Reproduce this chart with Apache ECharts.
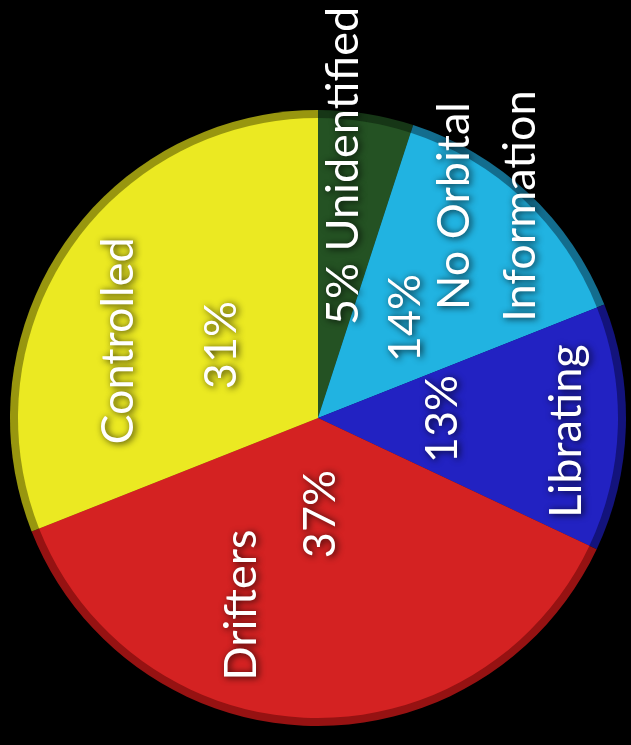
<!DOCTYPE html>
<html>
<head>
<meta charset="utf-8">
<script src="https://cdn.jsdelivr.net/npm/echarts@6/dist/echarts.min.js"></script>
<style>
  html, body { margin: 0; padding: 0; background: #000; }
  #chart { width: 631px; height: 745px; }
</style>
</head>
<body>
<div id="chart"></div>
<script>
// Share of tracked objects by orbital behaviour (percent)
const categories = ['Unidentified', 'No Orbital\nInformation', 'Librating', 'Drifters', 'Controlled'];
const shares = [5, 14, 13, 37, 31];

// Slice fill colours and the darker rim shade for each slice
const fillColors = ['#245223', '#21b3e1', '#2222c2', '#d42222', '#ebe922'];
const rimColors = ['#163616', '#136d8e', '#13137c', '#961212', '#98960f'];

// Hand-placed label anchors (text is set vertically, reading upward)
const valueLabelPos = [[343, 166], [405, 318], [442, 419], [320, 514], [221, 345]];
const nameLabelPos = [null, [487, 206], [566, 431], [241, 605], [118, 341]];

const CENTER = [318, 418];
const textStyle = {
  color: '#ffffff',
  fontFamily: 'Lato, "Open Sans", sans-serif',
  fontSize: 45,
  lineHeight: 66,
  textShadowColor: 'rgba(0,0,0,0.85)',
  textShadowBlur: 7,
  textShadowOffsetX: 2,
  textShadowOffsetY: 1
};

const chart = echarts.init(document.getElementById('chart'), null, { renderer: 'canvas' });

chart.setOption({
  backgroundColor: '#000000',
  animation: false,
  series: [
    {
      // outer rim + value labels
      name: 'rim',
      type: 'pie',
      center: CENTER,
      radius: [0, 308],
      startAngle: 90,
      silent: true,
      data: shares.map((v, i) => ({
        name: categories[i],
        value: v,
        itemStyle: { color: rimColors[i] }
      })),
      label: Object.assign({
        show: true,
        position: 'inside',
        rotate: 90,
        formatter: p => p.dataIndex === 0 ? p.value + '% ' + p.name : p.value + '%'
      }, textStyle),
      labelLine: { show: false },
      labelLayout: p => ({
        x: valueLabelPos[p.dataIndex][0],
        y: valueLabelPos[p.dataIndex][1],
        rotate: 90,
        align: 'center',
        verticalAlign: 'middle'
      })
    },
    {
      // main slices + category labels
      name: 'share',
      type: 'pie',
      center: CENTER,
      radius: [0, 300],
      startAngle: 90,
      silent: true,
      data: shares.map((v, i) => ({
        name: categories[i],
        value: v,
        itemStyle: { color: fillColors[i] },
        label: { show: nameLabelPos[i] !== null }
      })),
      label: Object.assign({
        show: true,
        position: 'inside',
        rotate: 90,
        formatter: '{b}'
      }, textStyle),
      labelLine: { show: false },
      labelLayout: p => {
        const pos = nameLabelPos[p.dataIndex];
        if (!pos) return {};
        return { x: pos[0], y: pos[1], rotate: 90, align: 'center', verticalAlign: 'middle' };
      }
    }
  ]
});
</script>
</body>
</html>
